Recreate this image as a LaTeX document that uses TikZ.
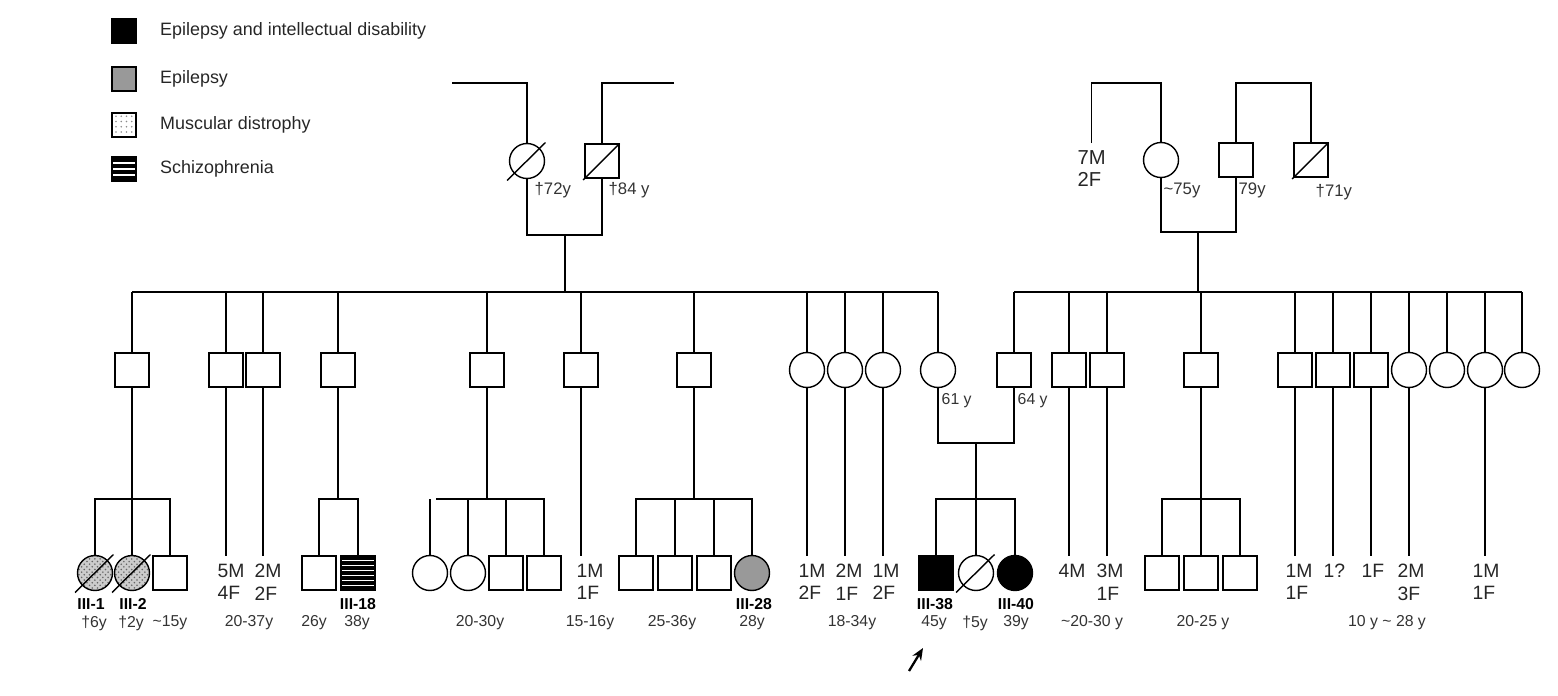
\documentclass[tikz,border=0pt]{standalone}
\usepackage{fontspec}
\setmainfont{Liberation Sans}
\usetikzlibrary{positioning,patterns,arrows.meta}

\tikzset{
  male/.style={draw, line width=0.8pt, minimum size=0.68cm, inner sep=0pt},
  female/.style={draw, circle, line width=0.8pt, minimum size=0.70cm, inner sep=0pt},
  legsq/.style={draw, line width=0.6pt, minimum size=0.48cm, inner sep=0pt},
  legtext/.style={font=\fontsize{10.2}{12}\selectfont, text=black!85, inner sep=0pt},
  tally/.style={font=\fontsize{11}{13}\selectfont, align=left, text=black!85,
    inner xsep=0pt, inner ysep=4pt, anchor=north west},
  age/.style={font=\fontsize{9}{11}\selectfont, text=black!80, inner sep=0pt},
  topage/.style={font=\fontsize{9.5}{11}\selectfont, text=black!80, inner sep=0pt, anchor=west},
  idtag/.style={font=\fontsize{9}{11}\selectfont\bfseries, inner sep=0pt},
  severe/.style={fill=black},
  epilepsy/.style={fill=black!40},
  dystrophy/.style={preaction={fill=black!20}, pattern=crosshatch dots, pattern color=black!60},
  dotsq/.style={pattern=dots, pattern color=black!45},
  stripes/.style={fill=black, path picture={
    \foreach \k in {#1}
      \draw[white, line width=0.9pt] ([yshift=\k mm]path picture bounding box.west)
        -- ([yshift=\k mm]path picture bounding box.east);}},
}
\newcommand{\deadf}[1]{\draw ([shift={(-0.40cm,-0.39cm)}]#1.center) -- ([shift={(0.37cm,0.37cm)}]#1.center);}
\newcommand{\deadm}[1]{\draw ([shift={(-0.38cm,-0.38cm)}]#1.center) -- ([shift={(0.35cm,0.35cm)}]#1.center);}

\begin{document}
\begin{tikzpicture}[x=0.02cm, y=-0.02cm, line width=0.8pt]
\useasboundingbox (0,0) rectangle (1558,696);

% legend
\node[legsq, severe] (lg1) at (124,31) {};
\node[legsq, epilepsy] (lg2) at (124,79) {};
\node[legsq, dotsq] (lg3) at (124,125) {};
\node[legsq, stripes={-1.2,0,1.2}] (lg4) at (124,169) {};
\node[legtext, right=0.46cm of lg1] (lt1) {Epilepsy and intellectual disability};
\node[legtext, right=0.46cm of lg2] (lt2) {Epilepsy};
\node[legtext, right=0.46cm of lg3] (lt3) {Muscular distrophy};
\node[legtext, right=0.46cm of lg4] (lt4) {Schizophrenia};

% generation I
\coordinate (top) at (0,83);
\coordinate (topL) at (452,83);
\coordinate (topR) at (674,83);
\node[female] (I1) at (527,161) {};
\node[male] (I2) at (602,161) {};
\node[female] (I3) at (1161,160) {};
\node[male] (I4) at (1236,160) {};
\node[male] (I5) at (1311,160) {};
\node[tally, font=\fontsize{11.5}{12.5}\selectfont] (k0) at (1077,143) {7M\\2F};
\deadf{I1} \deadm{I2} \deadm{I5}
\draw (topL) -| (I1);
\draw (topR) -| (I2);
\draw (k0.north) -- (k0.north |- top) -| (I3);
\draw (I4) -- (I4 |- top) -| (I5);
\node[topage] (a1) at (534,190) {†72y};
\node[topage] (a2) at (608,190) {†84 y};
\node[topage] (a3) at (1163,190) {\textasciitilde75y};
\node[topage] (a4) at (1238,190) {79y};
\node[topage] (a5) at (1315,192) {†71y};

\coordinate (m1) at (565,235);
\coordinate (m2) at (1198,232);
\draw (I1) |- (m1) -| (I2);
\draw (I3) |- (m2) -| (I4);

% generation II
\coordinate (sib) at (0,292);
\foreach \n/\x in {1/132,2/226,3/263,4/338,5/487,6/581,7/694,12/1014,13/1069,14/1107,15/1201,16/1295,17/1333,18/1371}
  \node[male] (II\n) at (\x,370) {};
\foreach \n/\x in {8/807,9/845,10/883,11/938,19/1409,20/1447,21/1485,22/1522}
  \node[female] (II\n) at (\x,370) {};
\draw (m1) -- (m1 |- sib);
\draw (m2) -- (m2 |- sib);
\draw (II1 |- sib) -- (II11 |- sib);
\draw (II12 |- sib) -- (II22 |- sib);
\foreach \n in {1,...,22}
  \draw (II\n |- sib) -- (II\n);
\node[topage, font=\fontsize{9}{11}\selectfont] (a6) at (941,401) {61 y};
\node[topage, font=\fontsize{9}{11}\selectfont] (a7) at (1017,401) {64 y};
\coordinate (m3) at (976,443);
\draw (II11) |- (m3) -| (II12);

% offspring counts
\foreach \n/\x/\t in {2/217/5M\\4F, 3/254/2M\\2F, 6/576/1M\\1F, 8/798/1M\\2F, 9/835/2M\\1F,
    10/872/1M\\2F, 13/1058/4M, 14/1096/3M\\1F, 16/1285/1M\\1F, 17/1323/1?, 18/1361/1F,
    19/1397/2M\\3F, 21/1472/1M\\1F} {
  \node[tally] (k\n) at (\x,556) {\t};
  \draw (II\n) -- (II\n |- k\n.north);
}

% generation III
\coordinate (s3) at (0,499);
\node[female, dystrophy] (III1) at (95,573) {};
\node[female, dystrophy] (III2) at (132,573) {};
\node[male] (III3) at (170,573) {};
\deadf{III1} \deadf{III2}
\draw (III1) |- (III3 |- s3) -- (III3);
\draw (II1) -- (III2);

\node[male] (III4) at (319,573) {};
\node[male, stripes={-2.5,-1.5,-0.5,0.5,1.5,2.5}] (III5) at (358,573) {};
\draw (III4) |- (III5 |- s3) -- (III5);
\draw (II4) -- (II4 |- s3);

\node[female] (III6) at (430,573) {};
\node[female] (III7) at (468,573) {};
\node[male] (III8) at (506,573) {};
\node[male] (III9) at (544,573) {};
\coordinate (gap) at (436,499);
\draw (III6) -- (III6 |- s3);
\draw (gap) -| (III9);
\draw (III7 |- s3) -- (III7);
\draw (III8 |- s3) -- (III8);
\draw (II5) -- (II5 |- s3);

\node[male] (III10) at (636,573) {};
\node[male] (III11) at (675,573) {};
\node[male] (III12) at (714,573) {};
\node[female, epilepsy] (III13) at (752,573) {};
\draw (III10) |- (III13 |- s3) -- (III13);
\draw (III11 |- s3) -- (III11);
\draw (III12 |- s3) -- (III12);
\draw (II7) -- (II7 |- s3);

\node[male, severe] (III14) at (936,573) {};
\node[female] (III15) at (976,573) {};
\node[female, severe] (III16) at (1015,573) {};
\deadf{III15}
\draw (III14) |- (III16 |- s3) -- (III16);
\draw (m3) -- (III15);

\node[male] (III17) at (1162,573) {};
\node[male] (III18) at (1201,573) {};
\node[male] (III19) at (1240,573) {};
\draw (III17) |- (III19 |- s3) -- (III19);
\draw (II15) -- (III18);

% labels
\foreach \x/\t [count=\i] in {91/III-1, 133/III-2, 358/III-18, 754/III-28, 935/III-38, 1016/III-40}
  \node[idtag] (id\i) at (\x,604) {\t};
\foreach \x/\t [count=\i] in {94/†6y, 131/†2y, 170/\textasciitilde15y, 249/20-37y, 314/26y, 357/38y,
    480/20-30y, 590/15-16y, 672/25-36y, 752/28y, 852/18-34y, 934/45y, 975/†5y, 1016/39y,
    1092/\textasciitilde20-30 y, 1203/20-25 y, 1387/10 y \textasciitilde\ 28 y}
  \node[age] (ag\i) at (\x,623) {\t};

% proband
\coordinate (arrtail) at (909,671);
\coordinate (arrtip) at (923,648);
\draw[-{Stealth[length=2.4mm,width=2mm]}, line width=1.3pt] (arrtail) -- (arrtip);
\end{tikzpicture}
\end{document}
